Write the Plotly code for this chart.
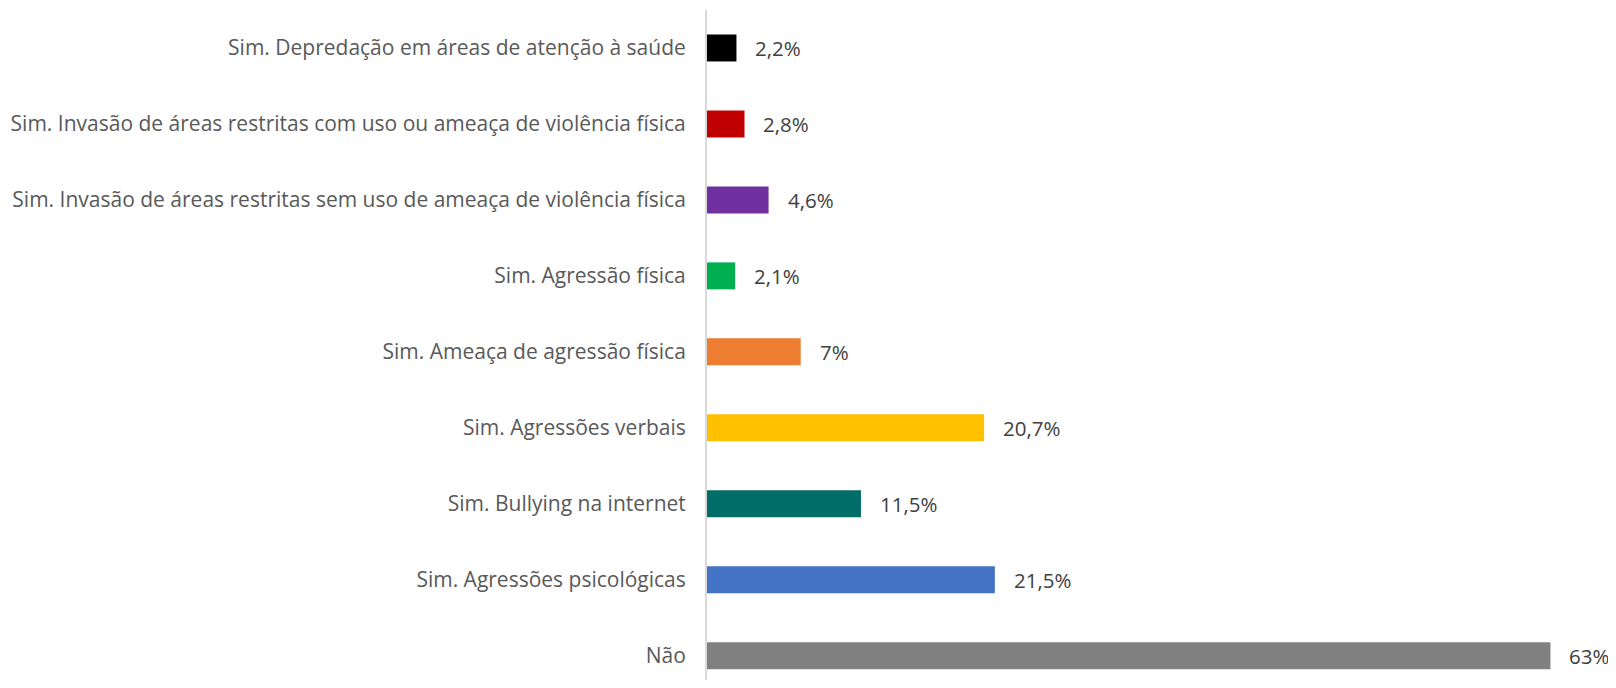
import plotly.graph_objects as go

categories = [
    "Não",
    "Sim. Agressões psicológicas",
    "Sim. Bullying na internet",
    "Sim. Agressões verbais",
    "Sim. Ameaça de agressão física",
    "Sim. Agressão física",
    "Sim. Invasão de áreas restritas sem uso de ameaça de violência física",
    "Sim. Invasão de áreas restritas com uso ou ameaça de violência física",
    "Sim. Depredação em áreas de atenção à saúde",
]
values = [63, 21.5, 11.5, 20.7, 7, 2.1, 4.6, 2.8, 2.2]
value_labels = ["63%", "21,5%", "11,5%", "20,7%", "7%", "2,1%", "4,6%", "2,8%", "2,2%"]
colors = ["#808080", "#4472C4", "#006D66", "#FFC000", "#ED7D31", "#00B050",
          "#7030A0", "#C00000", "#000000"]

FONT = "Open Sans"

fig = go.Figure(go.Bar(
    x=values, y=categories, orientation="h",
    marker=dict(color=colors, line=dict(width=0)),
    hoverinfo="skip",
))

for v, c, t in zip(values, categories, value_labels):
    fig.add_annotation(x=v, y=c, text=t, xanchor="left", yanchor="middle",
                       xshift=17, showarrow=False,
                       font=dict(family=FONT, size=20.5, color="#404040"))

fig.update_layout(
    width=1600, height=672,
    margin=dict(l=699, r=0, t=2, b=0),
    paper_bgcolor="white", plot_bgcolor="white",
    bargap=0.645,
    showlegend=False,
    xaxis=dict(range=[0, 67.3], showgrid=False, zeroline=False, showticklabels=False,
               showline=False, fixedrange=True),
    yaxis=dict(type="category", categoryorder="array", categoryarray=categories,
               range=[-0.32, 8.5], showgrid=False, zeroline=False,
               showline=True, linecolor="#D9D9D9", linewidth=2,
               ticks="", ticklabelstandoff=15,
               tickfont=dict(family=FONT, size=21, color="#595959")),
)

fig.write_html("out.html")
